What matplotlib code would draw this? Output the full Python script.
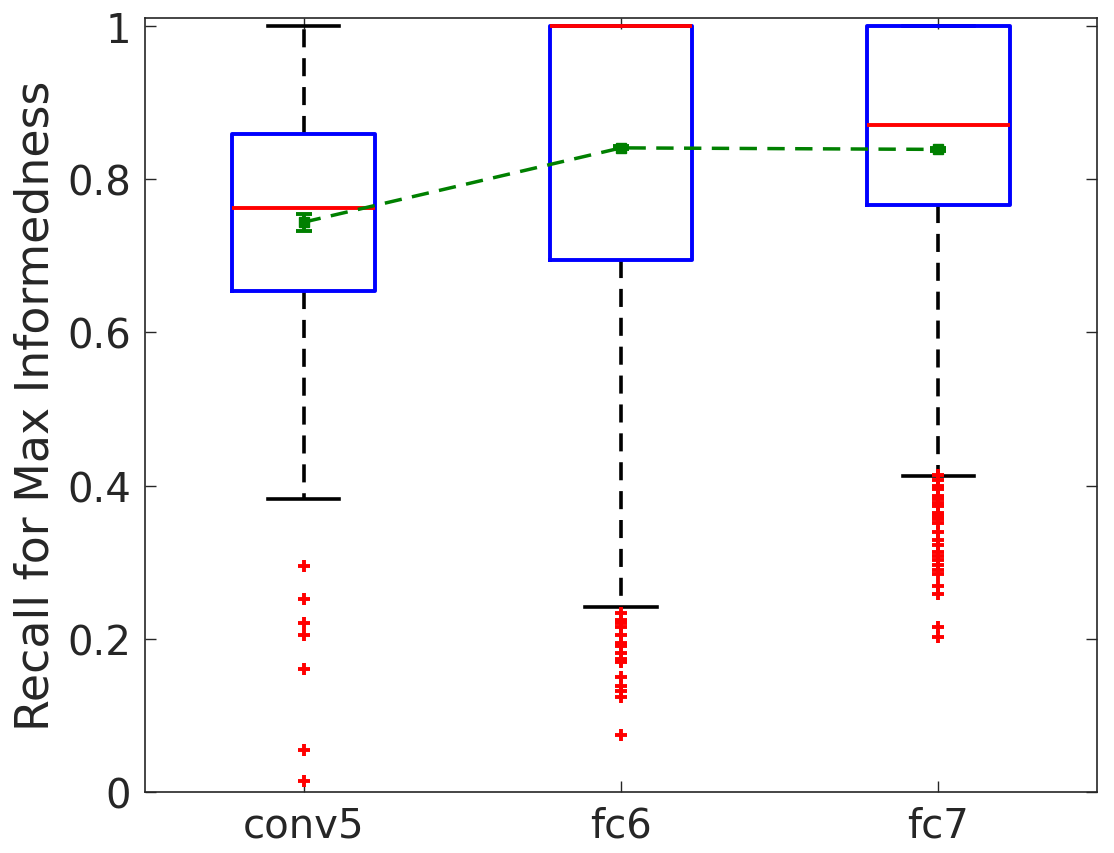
import matplotlib.pyplot as plt

# Data
layers = ['conv5', 'fc6', 'fc7']
q1 = [0.654, 0.695, 0.766]
medians = [0.763, 1.0, 0.871]
q3 = [0.859, 1.0, 1.0]
whislo = [0.383, 0.242, 0.413]
whishi = [1.0, 1.0, 1.0]
outliers = [
    [0.295, 0.252, 0.221, 0.205, 0.161, 0.055, 0.014],
    [0.234, 0.225, 0.221, 0.216, 0.205, 0.195, 0.191, 0.182, 0.174, 0.170,
     0.150, 0.139, 0.132, 0.124, 0.075],
    [0.414, 0.408, 0.399, 0.395, 0.386, 0.382, 0.377, 0.373, 0.364, 0.360,
     0.356, 0.351, 0.340, 0.329, 0.322, 0.314, 0.308, 0.303, 0.297, 0.290,
     0.284, 0.269, 0.258, 0.216, 0.202],
]
means = [0.744, 0.841, 0.839]
mean_err = [0.011, 0.002, 0.002]

positions = [1, 2, 3]
stats = []
for i, name in enumerate(layers):
    stats.append(dict(label=name, med=medians[i], q1=q1[i], q3=q3[i],
                      whislo=whislo[i], whishi=whishi[i], fliers=outliers[i]))

fig = plt.figure(figsize=(11.14, 8.54), dpi=100)
ax = fig.add_axes([0.1302, 0.0714, 0.8546, 0.9063])

ax.bxp(stats, positions=positions, widths=0.45, showfliers=True,
       boxprops=dict(color='#0000ff', linewidth=2.8, zorder=2.2),
       medianprops=dict(color='#ff0000', linewidth=2.8, zorder=2.3),
       whiskerprops=dict(color='black', linewidth=2.6, linestyle=(0, (5, 3)),
                         zorder=1.9),
       capprops=dict(color='black', linewidth=2.6, zorder=1.9),
       capwidths=0.225,
       flierprops=dict(marker='+', markeredgecolor='#ff0000', markersize=9,
                       markeredgewidth=2.8, linestyle='none'))

# means with error bars
ax.errorbar(positions, means, yerr=mean_err, color='#008000', linewidth=2.5,
            linestyle=(0, (5, 3)), marker='s', markersize=7,
            capsize=6, capthick=2.8, elinewidth=2.8, zorder=5)

ax.set_xlim(0.5, 3.5)
ax.set_ylim(0, 1.0105)
ax.set_xticks(positions)
ax.set_xticklabels(layers)
ax.set_yticks([0, 0.2, 0.4, 0.6, 0.8, 1.0])
ax.set_yticklabels(['0', '0.2', '0.4', '0.6', '0.8', '1'])
ax.set_ylabel('Recall for Max Informedness', fontsize=33, color='#262626',
              labelpad=6)
ax.tick_params(axis='both', direction='in', length=8, width=1,
               labelsize=29, colors='#262626', top=True, right=True, pad=10)
for s in ax.spines.values():
    s.set_color('#262626')
    s.set_linewidth(1.2)

plt.savefig('out.png', dpi=100)
